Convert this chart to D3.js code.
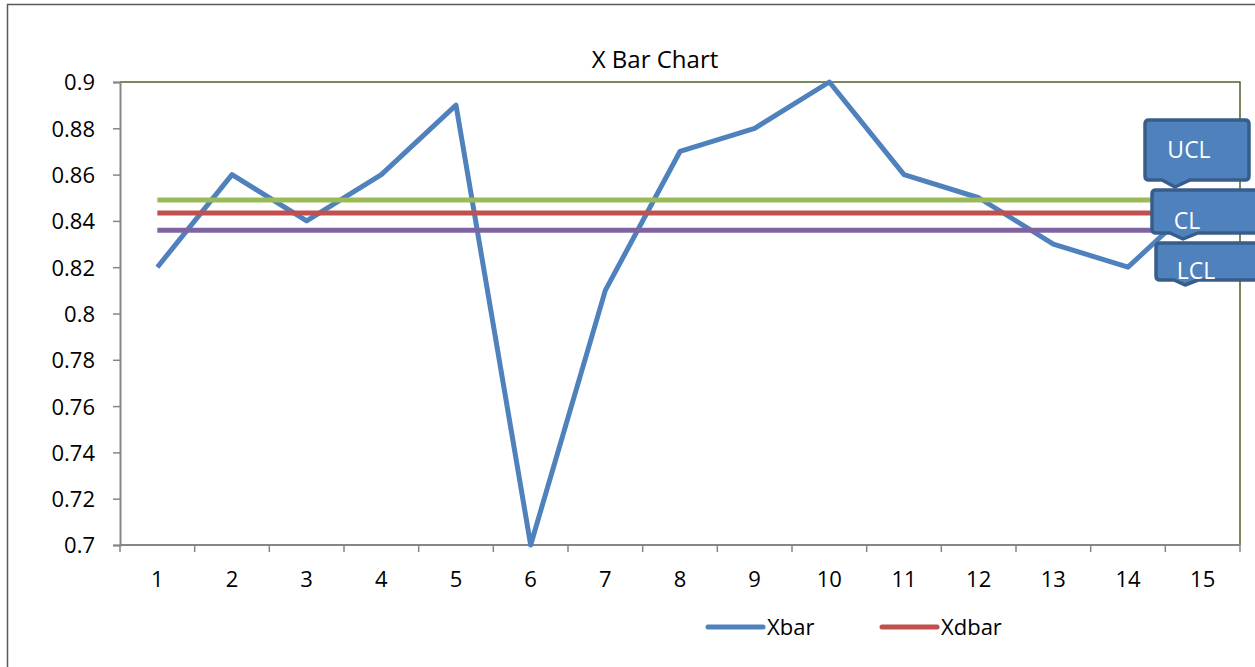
<!DOCTYPE html>
<html>
<head>
<meta charset="utf-8">
<script src="https://cdn.jsdelivr.net/npm/d3@7"></script>
<style>
  html, body { margin: 0; padding: 0; background: #fff; }
  svg { display: block; }
  text { font-family: "Open Sans", "Noto Sans", sans-serif; fill: #000; }
</style>
</head>
<body>
<svg id="chart" width="1255" height="667"></svg>
<script>
// Sample numbers and subgroup means
const samples = [1, 2, 3, 4, 5, 6, 7, 8, 9, 10, 11, 12, 13, 14, 15];
const xbar = [0.82, 0.86, 0.84, 0.86, 0.89, 0.70, 0.81, 0.87, 0.88, 0.90, 0.86, 0.85, 0.83, 0.82, 0.85];
// Control limits
const ucl = [0.849];
const xdbar = [0.8434];
const lcl = [0.836];
const yTicks = [0.7, 0.72, 0.74, 0.76, 0.78, 0.8, 0.82, 0.84, 0.86, 0.88, 0.9];
const legendItems = ["Xbar", "Xdbar"];
const calloutLabels = ["UCL", "CL", "LCL"];

const colors = { xbar: "#4F81BD", xdbar: "#C0504D", ucl: "#9BBB59", lcl: "#8064A2" };
const FONT = '"Open Sans", "Noto Sans", sans-serif';

const svg = d3.select("#chart");
const margin = { left: 120, top: 82, right: 1240, bottom: 545 };

// Outer chart frame
svg.append("rect")
  .attr("x", 7.5).attr("y", 4.5)
  .attr("width", 1260).attr("height", 680)
  .attr("fill", "#fff").attr("stroke", "#595959").attr("stroke-width", 1.5);

const x = d3.scaleBand().domain(samples).range([margin.left, margin.right]);
const y = d3.scaleLinear().domain([0.7, 0.9]).range([margin.bottom, margin.top]);
const cx = d => x(d) + x.bandwidth() / 2;

// Title
svg.append("text")
  .attr("x", 655).attr("y", 68)
  .attr("text-anchor", "middle")
  .style("font-size", "24px")
  .text("X Bar Chart");

// Plot area border (top/right)
svg.append("path")
  .attr("d", `M${margin.left},${margin.top}H${margin.right}V${margin.bottom}`)
  .attr("fill", "none").attr("stroke", "#4F6228").attr("stroke-width", 1.5);

// Y axis
const yAxis = svg.append("g")
  .attr("transform", `translate(${margin.left},0)`)
  .call(d3.axisLeft(y).tickValues(yTicks).tickSize(7).tickPadding(18)
    .tickFormat(d => d3.format("")(+d.toFixed(2))));
yAxis.select(".domain").attr("stroke", "#868686").attr("stroke-width", 2);
yAxis.selectAll(".tick line").attr("stroke", "#868686").attr("stroke-width", 1.5);
yAxis.selectAll(".tick text").style("font-size", "22px").attr("dy", "0.36em")
  .style("font-family", FONT).attr("fill", "#000");

// X axis with ticks on band boundaries
const xAxisG = svg.append("g").attr("transform", `translate(0,${margin.bottom})`);
xAxisG.append("line")
  .attr("x1", margin.left).attr("x2", margin.right)
  .attr("stroke", "#868686").attr("stroke-width", 2);
const bounds = samples.map(d => x(d)).concat([margin.right]);
xAxisG.selectAll(".bt").data(bounds).join("line")
  .attr("x1", d => d).attr("x2", d => d)
  .attr("y1", 0).attr("y2", 7)
  .attr("stroke", "#868686").attr("stroke-width", 1.5);
xAxisG.selectAll(".lbl").data(samples).join("text")
  .attr("x", d => cx(d)).attr("y", 42)
  .attr("text-anchor", "middle")
  .style("font-size", "22px")
  .text(d => d);

// Xbar series
const line = d3.line().x((d, i) => cx(samples[i])).y(d => y(d));
svg.append("path")
  .datum(xbar)
  .attr("d", line)
  .attr("fill", "none")
  .attr("stroke", colors.xbar)
  .attr("stroke-width", 5)
  .attr("stroke-linejoin", "round");

// Control limit lines
const limits = [
  { v: ucl[0], c: colors.ucl },
  { v: xdbar[0], c: colors.xdbar },
  { v: lcl[0], c: colors.lcl }
];
svg.selectAll(".limit").data(limits).join("line")
  .attr("x1", cx(samples[0])).attr("x2", cx(samples[samples.length - 1]))
  .attr("y1", d => y(d.v)).attr("y2", d => y(d.v))
  .attr("stroke", d => d.c).attr("stroke-width", 5);

// Callout boxes labelling the limit lines
const boxes = [
  { x0: 1145, y0: 120, x1: 1249, y1: 180, tip: [1175, 187], base: [1162, 1190], tx: 1189, ty: 158 },
  { x0: 1152, y0: 190, x1: 1262, y1: 233, tip: [1183, 239], base: [1170, 1198], tx: 1187, ty: 229 },
  { x0: 1156, y0: 243, x1: 1262, y1: 280, tip: [1185, 285], base: [1174, 1198], tx: 1196, ty: 279 }
];
function calloutPath(b) {
  const r = 4, p = d3.path();
  p.moveTo(b.x0 + r, b.y0);
  p.lineTo(b.x1 - r, b.y0);
  p.quadraticCurveTo(b.x1, b.y0, b.x1, b.y0 + r);
  p.lineTo(b.x1, b.y1 - r);
  p.quadraticCurveTo(b.x1, b.y1, b.x1 - r, b.y1);
  p.lineTo(b.base[1], b.y1);
  p.lineTo(b.tip[0], b.tip[1]);
  p.lineTo(b.base[0], b.y1);
  p.lineTo(b.x0 + r, b.y1);
  p.quadraticCurveTo(b.x0, b.y1, b.x0, b.y1 - r);
  p.lineTo(b.x0, b.y0 + r);
  p.quadraticCurveTo(b.x0, b.y0, b.x0 + r, b.y0);
  p.closePath();
  return p.toString();
}
const cg = svg.selectAll(".callout").data(boxes).join("g");
cg.append("path")
  .attr("d", calloutPath)
  .attr("fill", "#4F81BD").attr("stroke", "#385D8A").attr("stroke-width", 3.5)
  .attr("stroke-linejoin", "round");
cg.append("text")
  .attr("x", d => d.tx).attr("y", d => d.ty)
  .attr("text-anchor", "middle")
  .style("font-size", "23px").style("fill", "#fff")
  .text((d, i) => calloutLabels[i]);

// Legend
const legend = [
  { name: legendItems[0], c: colors.xbar, x: 708 },
  { name: legendItems[1], c: colors.xdbar, x: 882 }
];
const lg = svg.selectAll(".leg").data(legend).join("g")
  .attr("transform", d => `translate(${d.x},627)`);
lg.append("line").attr("x1", 0).attr("x2", 55)
  .attr("stroke", d => d.c).attr("stroke-width", 5).attr("stroke-linecap", "round");
lg.append("text").attr("x", 59).attr("y", 8)
  .style("font-size", "22px").text(d => d.name);
</script>
</body>
</html>
